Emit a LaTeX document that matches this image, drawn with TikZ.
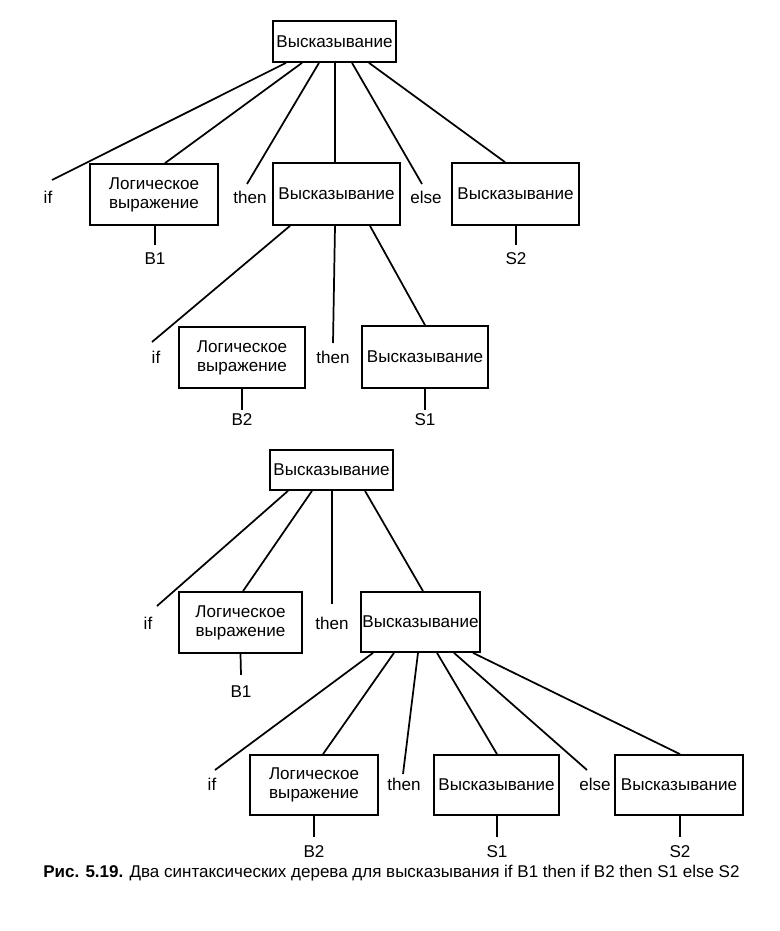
\documentclass[tikz,border=0pt]{standalone}
\usepackage{fontspec}
\setmainfont{Liberation Sans}
\usetikzlibrary{calc}
\begin{document}
\begin{tikzpicture}[x=0.75pt,y=-0.75pt,
  box/.style={draw, line width=1.3pt, inner sep=0pt, align=center, font=\fontsize{12.8}{14.4}\selectfont},
  bx/.style 2 args={box, minimum width=#1*0.75pt, minimum height=#2*0.75pt},
  word/.style={inner sep=0pt, font=\fontsize{12.8}{14.4}\selectfont},
  edge/.style={line width=1.3pt}]
\useasboundingbox (0,0) rectangle (779,931);

% ---------- Tree 1 ----------
\node[bx={123}{41}] (r1) at (334.5,41.5) {Высказывание};
\node[word] (if1) at (48,197) {if};
\node[bx={128}{61}] (L1) at (154,194.5) {Логическое\\выражение};
\node[word] (then1) at (250,197) {then};
\node[bx={127}{62}] (S1) at (336.5,194) {Высказывание};
\node[word] (else1) at (426,197) {else};
\node[bx={127}{62}] (S2) at (515.5,194) {Высказывание};
\node[word] (B1a) at (155,259) {B1};
\node[word] (S2a) at (516,259) {S2};

\draw[edge] ($(r1.south)+(-48.5,0)$) -- ($(if1)+(4,-17)$);
\draw[edge] ($(r1.south)+(-32.5,0)$) -- ($(L1.north)+(11,0)$);
\draw[edge] ($(r1.south)+(-15.5,0)$) -- ($(then1)+(-3,-13)$);
\draw[edge] ($(r1.south)+(0.5,0)$) -- ($(S1.north)+(-1.5,0)$);
\draw[edge] ($(r1.south)+(17.5,0)$) -- ($(else1)+(-4,-13)$);
\draw[edge] ($(r1.south)+(34.5,0)$) -- ($(S2.north)+(-10.5,0)$);
\draw[edge] ($(L1.south)+(1,0)$) -- ($(B1a.north)+(0,-8)$);
\draw[edge] ($(S2.south)+(0.5,0)$) -- ($(S2a.north)+(0,-8)$);

\node[word] (if2) at (156,357) {if};
\node[bx={126}{61}] (L2) at (242,357.5) {Логическое\\выражение};
\node[word] (then2) at (333,357) {then};
\node[bx={126}{62}] (S3) at (425,357) {Высказывание};
\node[word] (B2a) at (242,420) {B2};
\node[word] (S1a) at (425,420) {S1};

\draw[edge] ($(S1.south)+(-46.5,0)$) -- ($(if2)+(-4,-15)$);
\draw[edge] ($(S1.south)+(-1.5,0)$) -- ($(then2)+(0,-14)$);
\draw[edge] ($(S1.south)+(33.5,0)$) -- (S3.north);
\draw[edge] (L2.south) -- ($(B2a.north)+(0,-4)$);
\draw[edge] (S3.south) -- ($(S1a.north)+(0,-4)$);

% ---------- Tree 2 ----------
\node[bx={123}{40}] (r2) at (331.5,470) {Высказывание};
\node[word] (if3) at (148,623) {if};
\node[bx={123}{61}] (L3) at (240.5,622.5) {Логическое\\выражение};
\node[word] (then3) at (332,623) {then};
\node[bx={119}{60}] (S4) at (420.5,622) {Высказывание};
\node[word] (B1b) at (241,692) {B1};

\draw[edge] ($(r2.south)+(-43.5,0)$) -- ($(if3)+(9,-17)$);
\draw[edge] ($(r2.south)+(-19.5,0)$) -- ($(L3.north)+(2.5,0)$);
\draw[edge] ($(r2.south)+(0.5,0)$) -- ($(then3)+(0,-19)$);
\draw[edge] ($(r2.south)+(33.5,0)$) -- ($(S4.north)+(2.5,0)$);
\draw[edge] (L3.south) -- ($(B1b.north)+(0,-11)$);

\node[word] (if4) at (212,784) {if};
\node[bx={128}{60}] (L4) at (314,785) {Логическое\\выражение};
\node[word] (then4) at (404,784) {then};
\node[bx={125}{60}] (S5) at (496.5,785) {Высказывание};
\node[word] (else4) at (595,784) {else};
\node[bx={128}{60}] (S6) at (679,785) {Высказывание};
\node[word] (B2b) at (314,852) {B2};
\node[word] (S1b) at (497,852) {S1};
\node[word] (S2b) at (680,852) {S2};

\draw[edge] ($(S4.south)+(-47.5,0)$) -- ($(if4)+(3,-14)$);
\draw[edge] ($(S4.south)+(-26.5,0)$) -- ($(L4.north)+(9,0)$);
\draw[edge] ($(S4.south)+(-2.5,0)$) -- ($(then4)+(-1,-10)$);
\draw[edge] ($(S4.south)+(16.5,0)$) -- ($(S5.north)+(0.5,0)$);
\draw[edge] ($(S4.south)+(33.5,0)$) -- ($(else4)+(-8,-14)$);
\draw[edge] ($(S4.south)+(52.5,0)$) -- ($(S6.north)+(1,0)$);
\draw[edge] (L4.south) -- ($(B2b.north)+(0,-9)$);
\draw[edge] ($(S5.south)+(0.5,0)$) -- ($(S1b.north)+(0,-9)$);
\draw[edge] ($(S6.south)+(1,0)$) -- ($(S2b.north)+(0,-9)$);

% ---------- Caption ----------
\node[inner sep=0pt, anchor=west, font=\fontsize{12.75}{14}\selectfont] (cap) at (43,873) {\textbf{Рис. 5.19.} Два синтаксических дерева для высказывания if B1 then if B2 then S1 else S2};
\end{tikzpicture}
\end{document}
